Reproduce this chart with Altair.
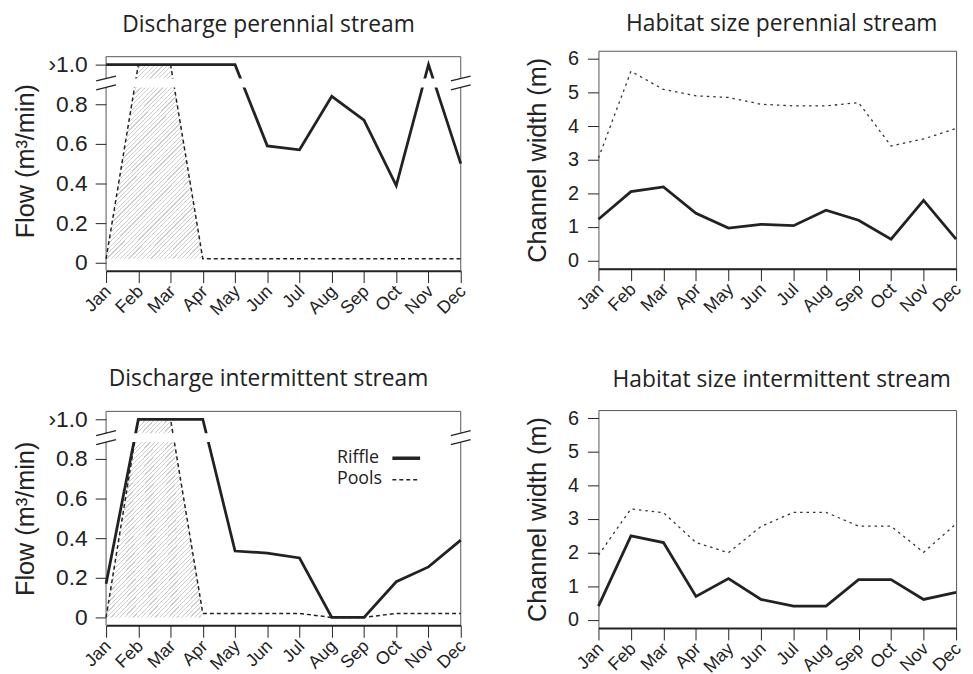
import altair as alt
import pandas as pd

months = ["Jan", "Feb", "Mar", "Apr", "May", "Jun", "Jul", "Aug", "Sep", "Oct", "Nov", "Dec"]

per_riffle_flow = [1.0, 1.0, 1.0, 1.0, 1.0, 0.59, 0.57, 0.84, 0.72, 0.39, 1.0, 0.5]
per_pools_flow = [0.02, 1.0, 1.0, 0.02, 0.02, 0.02, 0.02, 0.02, 0.02, 0.02, 0.02, 0.02]
int_riffle_flow = [0.17, 1.0, 1.0, 1.0, 0.335, 0.325, 0.30, 0.0, 0.0, 0.18, 0.255, 0.39]
int_pools_flow = [0.0, 1.0, 1.0, 0.02, 0.02, 0.02, 0.02, 0.0, 0.0, 0.02, 0.02, 0.02]
per_hatch_base = 0.02
int_hatch_base = 0.0
hatch_months = 4

per_riffle_width = [1.23, 2.05, 2.19, 1.41, 0.97, 1.08, 1.04, 1.5, 1.2, 0.64, 1.79, 0.64]
per_pools_width = [3.05, 5.63, 5.09, 4.9, 4.85, 4.65, 4.6, 4.6, 4.7, 3.41, 3.62, 3.93]
int_riffle_width = [0.41, 2.5, 2.3, 0.7, 1.23, 0.61, 0.41, 0.41, 1.2, 1.2, 0.61, 0.82]
int_pools_width = [1.93, 3.3, 3.19, 2.3, 2.0, 2.78, 3.2, 3.2, 2.79, 2.79, 2.01, 2.86]

flow_ticks = [0, 0.2, 0.4, 0.6, 0.8, 1.0]
flow_range = [-0.04, 1.04]
width_ticks = [0, 1, 2, 3, 4, 5, 6]
break_band = [0.885, 0.93]
legend_labels = ["Riffle", "Pools"]

INK = "#222222"
FRAME = "#555555"
FW, FH = 358, 216
WW, WH = 361, 220
FLOW_PX = FH / (flow_range[1] - flow_range[0])
LABEL_FONT = "Liberation Sans"
TITLE_FONT = "Open Sans"

month_expr = "[" + ",".join("'%s'" % m for m in months) + "][datum.value - 1]"


def x_enc():
    return alt.X(
        "mi:Q",
        scale=alt.Scale(domain=[1, 12], nice=False, zero=False),
        axis=alt.Axis(
            title=None, values=list(range(1, 13)), labelExpr=month_expr,
            labelAngle=-45, labelAlign="right", labelBaseline="middle",
            labelFontSize=18, labelFont=LABEL_FONT, labelColor=INK,
            labelPadding=6, labelOffset=2, labelOverlap=False, labelBound=False,
            tickSize=12, tickColor=INK, tickWidth=1,
            domainColor=INK, domainWidth=2, grid=False,
        ),
    )


def flow_y(field, top):
    return alt.Y(
        field,
        scale=alt.Scale(domain=[flow_range[0], top], nice=False, zero=False),
        axis=alt.Axis(
            title="Flow (m³/min)", values=flow_ticks,
            labelExpr="datum.value >= 1 ? '\u203a1.0' : (datum.value == 0 ? '0' : format(datum.value, '.1f'))",
            labelFontSize=23, labelFont=LABEL_FONT, labelColor=INK, labelPadding=8,
            tickSize=11, tickColor=INK, tickWidth=1, domain=False, grid=False,
            titleFontSize=25.5, titleFont=LABEL_FONT, titleFontWeight="normal", titleColor=INK,
            titlePadding=9.5, minExtent=59, maxExtent=59,
        ),
    )


def width_y(field):
    return alt.Y(
        field,
        scale=alt.Scale(domain=[-0.24, 6.24], nice=False, zero=False),
        axis=alt.Axis(
            title="Channel width (m)", values=width_ticks, format="d",
            labelFontSize=20, labelFont=LABEL_FONT, labelColor=INK, labelPadding=9,
            tickSize=11, tickColor=INK, tickWidth=1, domain=False, grid=False,
            titleFontSize=25.5, titleFont=LABEL_FONT, titleFontWeight="normal", titleColor=INK,
            titlePadding=17.5, minExtent=31, maxExtent=31,
        ),
    )


def hatch_fill(n=66, frac=0.27):
    stops = []
    for i in range(n):
        a = i / n
        b = (i + frac) / n
        c = (i + 1) / n
        stops += [
            alt.GradientStop(offset=a, color="#cdcdcd"),
            alt.GradientStop(offset=b, color="#cdcdcd"),
            alt.GradientStop(offset=b, color="#ffffff"),
            alt.GradientStop(offset=c, color="#ffffff"),
        ]
    # vector proportional to the box's (width, height) gives 45-degree stripes
    return alt.LinearGradient(gradient="linear", stops=stops, x1=0, y1=0, x2=0.6, y2=1.2)


def title(text, dx, offset):
    return alt.TitleParams(
        text=text, font=TITLE_FONT, fontSize=23, fontWeight="normal", color=INK,
        anchor="middle", frame="group", dx=dx, baseline="alphabetic", offset=offset,
    )


def flow_panel(ttl, riffle, pools, base, legend, dx, offset, extra_px):
    top = flow_range[1] + extra_px / FLOW_PX
    H = FH + extra_px
    df = pd.DataFrame({"mi": list(range(1, 13)), "month": months, "riffle": riffle, "pools": pools})
    hatch_df = pd.DataFrame({
        "mi": list(range(1, hatch_months + 1)),
        "pools": pools[:hatch_months],
        "base": [base] * hatch_months,
    })
    band_df = pd.DataFrame({"lo": [break_band[0]], "hi": [break_band[1]]})
    frame_df = pd.DataFrame({"lo": [flow_range[0]], "hi": [flow_range[1]]})
    d = 0.0125
    slash_df = pd.DataFrame({"y1": [b - d for b in break_band], "y2": [b + d for b in break_band]})

    def fy(f):
        return flow_y(f, top)

    frame_top = alt.Chart(frame_df).mark_rule(color=FRAME, strokeWidth=1).encode(
        x=alt.value(0), x2=alt.value(FW), y=fy("hi:Q"))
    frame_l = alt.Chart(frame_df).mark_rule(color=FRAME, strokeWidth=1).encode(
        x=alt.value(0), y=fy("lo:Q"), y2="hi:Q")
    frame_r = alt.Chart(frame_df).mark_rule(color=FRAME, strokeWidth=1).encode(
        x=alt.value(FW), y=fy("lo:Q"), y2="hi:Q")
    hatch = alt.Chart(hatch_df).mark_area(fill=hatch_fill(), strokeWidth=0).encode(
        x=x_enc(), y=fy("pools:Q"), y2="base:Q")
    riffle_line = alt.Chart(df).mark_line(color=INK, strokeWidth=2.8).encode(
        x=x_enc(), y=fy("riffle:Q"))
    pools_line = alt.Chart(df).mark_line(color=INK, strokeWidth=1.5, strokeDash=[4, 3]).encode(
        x=x_enc(), y=fy("pools:Q"))
    band = alt.Chart(band_df).mark_rect(color="white").encode(
        x=alt.value(-2), x2=alt.value(FW + 2), y=fy("lo:Q"), y2="hi:Q")
    slash_l = alt.Chart(slash_df).mark_rule(color=INK, strokeWidth=1.3).encode(
        x=alt.value(-10), x2=alt.value(10), y=fy("y1:Q"), y2="y2:Q")
    slash_r = alt.Chart(slash_df).mark_rule(color=INK, strokeWidth=1.3).encode(
        x=alt.value(FW - 10), x2=alt.value(FW + 10), y=fy("y1:Q"), y2="y2:Q")
    layers = [frame_top, frame_l, frame_r, hatch, riffle_line, pools_line, band, slash_l, slash_r]
    if legend:
        ty = extra_px
        t1 = alt.Chart(pd.DataFrame({"label": [legend_labels[0]]})).mark_text(
            font=TITLE_FONT, fontSize=18, color=INK, align="left", baseline="alphabetic").encode(
            x=alt.value(233), y=alt.value(ty + 52), text="label:N")
        t2 = alt.Chart(pd.DataFrame({"label": [legend_labels[1]]})).mark_text(
            font=TITLE_FONT, fontSize=18, color=INK, align="left", baseline="alphabetic").encode(
            x=alt.value(233), y=alt.value(ty + 73.5), text="label:N")
        l1 = alt.Chart(pd.DataFrame({"label": [legend_labels[0]]})).mark_rule(
            color=INK, strokeWidth=3.5).encode(x=alt.value(289), x2=alt.value(317), y=alt.value(ty + 47.3))
        l2 = alt.Chart(pd.DataFrame({"label": [legend_labels[1]]})).mark_rule(
            color=INK, strokeWidth=1.5, strokeDash=[4, 3]).encode(x=alt.value(289), x2=alt.value(317), y=alt.value(ty + 69))
        layers += [t1, t2, l1, l2]
    return alt.layer(*layers).properties(
        width=FW, height=H, title=title(ttl, dx, offset),
        view=alt.ViewBackground(stroke="transparent"),
    )


def width_panel(ttl, riffle, pools, dx, offset):
    df = pd.DataFrame({"mi": list(range(1, 13)), "month": months, "riffle": riffle, "pools": pools})
    riffle_line = alt.Chart(df).mark_line(color=INK, strokeWidth=2.8).encode(
        x=x_enc(), y=width_y("riffle:Q"))
    pools_line = alt.Chart(df).mark_line(color="#333333", strokeWidth=1.3, strokeDash=[2.5, 4]).encode(
        x=x_enc(), y=width_y("pools:Q"))
    return alt.layer(riffle_line, pools_line).properties(
        width=WW, height=WH, title=title(ttl, dx, offset),
        view=alt.ViewBackground(stroke=FRAME, strokeWidth=1),
    )


tl = flow_panel("Discharge perennial stream", per_riffle_flow, per_pools_flow, per_hatch_base, False, -15, -4, 6)
bl = flow_panel("Discharge intermittent stream", int_riffle_flow, int_pools_flow, int_hatch_base, True, -15, 0, 0)
tr = width_panel("Habitat size perennial stream", per_riffle_width, per_pools_width, 4.5, -5)
br = width_panel("Habitat size intermittent stream", int_riffle_width, int_pools_width, 4.5, -1.7)

left = alt.vconcat(tl, bl, spacing=48)
right = alt.vconcat(tr, br, spacing=51.7)
chart = alt.concat(left, right, columns=2, spacing=53, align="none").properties(
    padding={"left": 5, "top": 1, "right": 0, "bottom": 0}
).configure(background="white")

chart.save("out.html", embed_options={"renderer": "svg", "actions": False})
